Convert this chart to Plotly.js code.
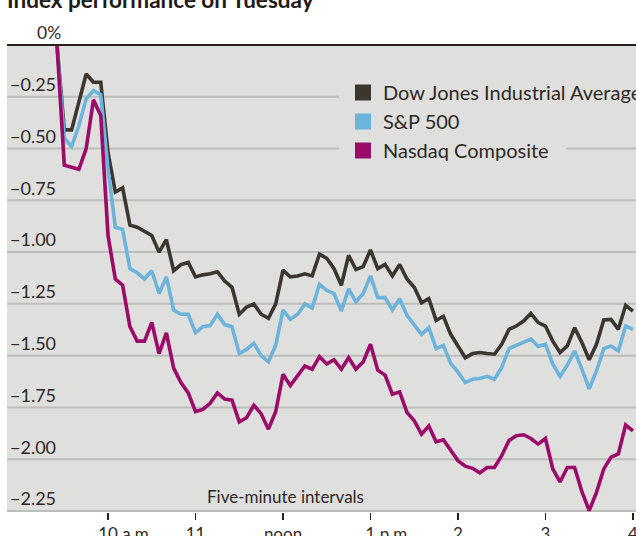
<!DOCTYPE html>
<html>
<head>
<meta charset="utf-8">
<script src="https://cdn.plot.ly/plotly-3.0.1.min.js"></script>
<style>
  html, body { margin: 0; padding: 0; background: #ffffff; }
  #chart { width: 636px; height: 536px; }
</style>
</head>
<body>
<div id="chart"></div>
<script>
// ---- Data (percent change, five-minute intervals) ----
const seriesNames = ["Dow Jones Industrial Average", "S&P 500", "Nasdaq Composite"];
const seriesColors = ["#3c3631", "#6db4dc", "#9b0b69"];

const dow = [0, -0.41, -0.41, -0.28, -0.14, -0.18, -0.18, -0.52, -0.71, -0.69,
  -0.87, -0.88, -0.90, -0.92, -1.00, -0.94, -1.09, -1.06, -1.05, -1.12,
  -1.11, -1.105, -1.095, -1.14, -1.17, -1.30, -1.265, -1.25, -1.30, -1.32,
  -1.25, -1.087, -1.12, -1.115, -1.105, -1.115, -1.01, -1.03, -1.08, -1.16,
  -1.016, -1.084, -1.07, -0.99, -1.08, -1.06, -1.115, -1.06, -1.13, -1.17,
  -1.245, -1.225, -1.33, -1.31, -1.397, -1.45, -1.51, -1.49, -1.485, -1.49,
  -1.493, -1.445, -1.373, -1.357, -1.333, -1.296, -1.34, -1.357, -1.43, -1.485,
  -1.453, -1.365, -1.437, -1.52, -1.445, -1.328, -1.325, -1.373, -1.257, -1.285];

const sp500 = [0, -0.45, -0.49, -0.39, -0.26, -0.22, -0.24, -0.60, -0.88, -0.89,
  -1.08, -1.10, -1.13, -1.09, -1.20, -1.12, -1.28, -1.30, -1.30, -1.39,
  -1.36, -1.355, -1.30, -1.35, -1.36, -1.49, -1.47, -1.44, -1.50, -1.53,
  -1.45, -1.28, -1.325, -1.30, -1.25, -1.27, -1.156, -1.185, -1.20, -1.285,
  -1.177, -1.24, -1.20, -1.115, -1.22, -1.22, -1.28, -1.225, -1.305, -1.35,
  -1.397, -1.365, -1.466, -1.45, -1.537, -1.58, -1.63, -1.614, -1.61, -1.60,
  -1.614, -1.557, -1.466, -1.45, -1.437, -1.42, -1.456, -1.445, -1.54, -1.60,
  -1.546, -1.477, -1.565, -1.66, -1.574, -1.466, -1.453, -1.477, -1.357, -1.373];

const nasdaq = [0, -0.58, -0.59, -0.60, -0.50, -0.265, -0.34, -0.92, -1.13, -1.16,
  -1.36, -1.43, -1.43, -1.34, -1.49, -1.39, -1.56, -1.63, -1.68, -1.77,
  -1.76, -1.73, -1.68, -1.71, -1.715, -1.82, -1.80, -1.74, -1.78, -1.855,
  -1.77, -1.59, -1.645, -1.60, -1.55, -1.565, -1.505, -1.54, -1.52, -1.565,
  -1.51, -1.565, -1.53, -1.445, -1.57, -1.594, -1.686, -1.675, -1.774, -1.814,
  -1.879, -1.84, -1.916, -1.906, -1.958, -2.007, -2.034, -2.044, -2.066, -2.04,
  -2.04, -1.983, -1.91, -1.887, -1.882, -1.90, -1.927, -1.90, -2.047, -2.11,
  -2.04, -2.04, -2.157, -2.248, -2.16, -2.047, -1.99, -1.975, -1.835, -1.863];

// five-minute interval index of each reading
const intervals = dow.map((_, i) => i);

// x-axis ticks (interval index of each hour mark)
const xTickVals = [7, 19, 31, 43, 55, 67, 79];
const xTickNums = ["10", "11", "noon", "1", "2", "3", "4"];
const xTickSuffix = [" a.m.", "", "", " p.m.", "", "", ""];

// y-axis ticks
const yTickVals = [-0.25, -0.50, -0.75, -1.00, -1.25, -1.50, -1.75, -2.00, -2.25];
const yTickText = ["\u22120.25", "\u22120.50", "\u22120.75", "\u22121.00", "\u22121.25",
  "\u22121.50", "\u22121.75", "\u22122.00", "\u22122.25"];

// ---- Styles ----
const FONT = "Lato, 'Noto Sans', sans-serif";
const TEXT = "#2e2926";
const GRID = "#bdbdbb";
const BG = "#dfdfdd";

// hour labels: the number sits on the tick, the suffix hangs to the right
const xTickText = xTickNums.map((n, i) => xTickSuffix[i]
  ? "<span style='color:rgba(0,0,0,0)'>" + xTickSuffix[i] + "</span>" + n + xTickSuffix[i]
  : n);

// gridline segments (paper fractions), broken where the legend sits
const gridSegments = {
  "-0.25": [[0, 0.528]],
  "-0.5": [[0, 0.528], [0.889, 1]]
};

const allSeries = [dow, sp500, nasdaq];
const traces = allSeries.map((vals, k) => ({
  type: "scatter", mode: "lines", x: intervals, y: vals,
  name: seriesNames[k], showlegend: false, hoverinfo: "skip",
  line: { color: seriesColors[k], width: 3.6, shape: "linear" }
}));
// legend swatches (squares)
seriesNames.forEach((nm, k) => traces.push({
  type: "scatter", mode: "markers", x: [null], y: [null], name: nm,
  legendgroup: "g" + k,
  marker: { symbol: "square", size: 16, color: seriesColors[k] }
}));

const shapes = [];
yTickVals.forEach(v => {
  const segs = gridSegments[String(v)] || [[0, 1]];
  segs.forEach(s => shapes.push({
    type: "line", xref: "paper", yref: "y", x0: s[0], x1: s[1], y0: v, y1: v,
    layer: "below", line: { color: GRID, width: 2 }
  }));
});
// zero line at top
shapes.push({
  type: "line", xref: "paper", yref: "paper", x0: 0, x1: 1, y0: 1, y1: 1,
  line: { color: "#2a211b", width: 2.2 }
});

const layout = {
  width: 636, height: 536,
  margin: { l: 7, r: 0, t: 45, b: 24, pad: 0, autoexpand: false },
  paper_bgcolor: "#ffffff",
  plot_bgcolor: BG,
  font: { family: FONT, color: TEXT, size: 17 },
  title: {
    text: "<b>Index performance on Tuesday</b>",
    xref: "container", yref: "container", x: 7 / 636, xanchor: "left",
    y: 1, yanchor: "middle",
    font: { family: FONT, size: 22.5, color: "#1e1a17" }
  },
  xaxis: {
    range: [-6.86, 79.42], showgrid: false, zeroline: false,
    showline: false, automargin: false, ticklabeloverflow: "allow",
    tickmode: "array", tickvals: xTickVals, ticktext: xTickText,
    ticks: "outside", ticklen: 7, tickwidth: 1.5, tickcolor: "#2a211b",
    tickfont: { family: FONT, size: 17, color: TEXT },
    fixedrange: true
  },
  yaxis: {
    range: [-2.255, 0], showgrid: false, zeroline: false, showline: false,
    automargin: false,
    tickmode: "array", tickvals: yTickVals, ticktext: yTickText,
    ticks: "", ticklabelposition: "inside", ticklabelshift: -12,
    tickfont: { family: FONT, size: 18, color: TEXT },
    fixedrange: true
  },
  shapes: shapes,
  annotations: [
    {
      text: "0%", xref: "paper", yref: "y", x: (63 - 7) / 629, y: 0,
      xanchor: "right", yanchor: "bottom", yshift: 0, showarrow: false,
      font: { family: FONT, size: 17.5, color: TEXT }
    },
    {
      text: "Five-minute intervals", xref: "paper", yref: "paper",
      x: (285 - 7) / 629, y: 0, xanchor: "center", yanchor: "bottom", yshift: 3,
      showarrow: false, font: { family: FONT, size: 17, color: TEXT }
    }
  ],
  showlegend: true,
  legend: {
    x: (343 - 7) / 629, xanchor: "left", y: 1 - (73 - 45) / 467, yanchor: "top",
    bgcolor: "rgba(0,0,0,0)", borderwidth: 0,
    font: { family: FONT, size: 20, color: TEXT },
    traceorder: "normal", tracegroupgap: 0, itemclick: false, itemdoubleclick: false
  }
};

Plotly.newPlot("chart", traces, layout, { displayModeBar: false, staticPlot: true });
</script>
</body>
</html>
